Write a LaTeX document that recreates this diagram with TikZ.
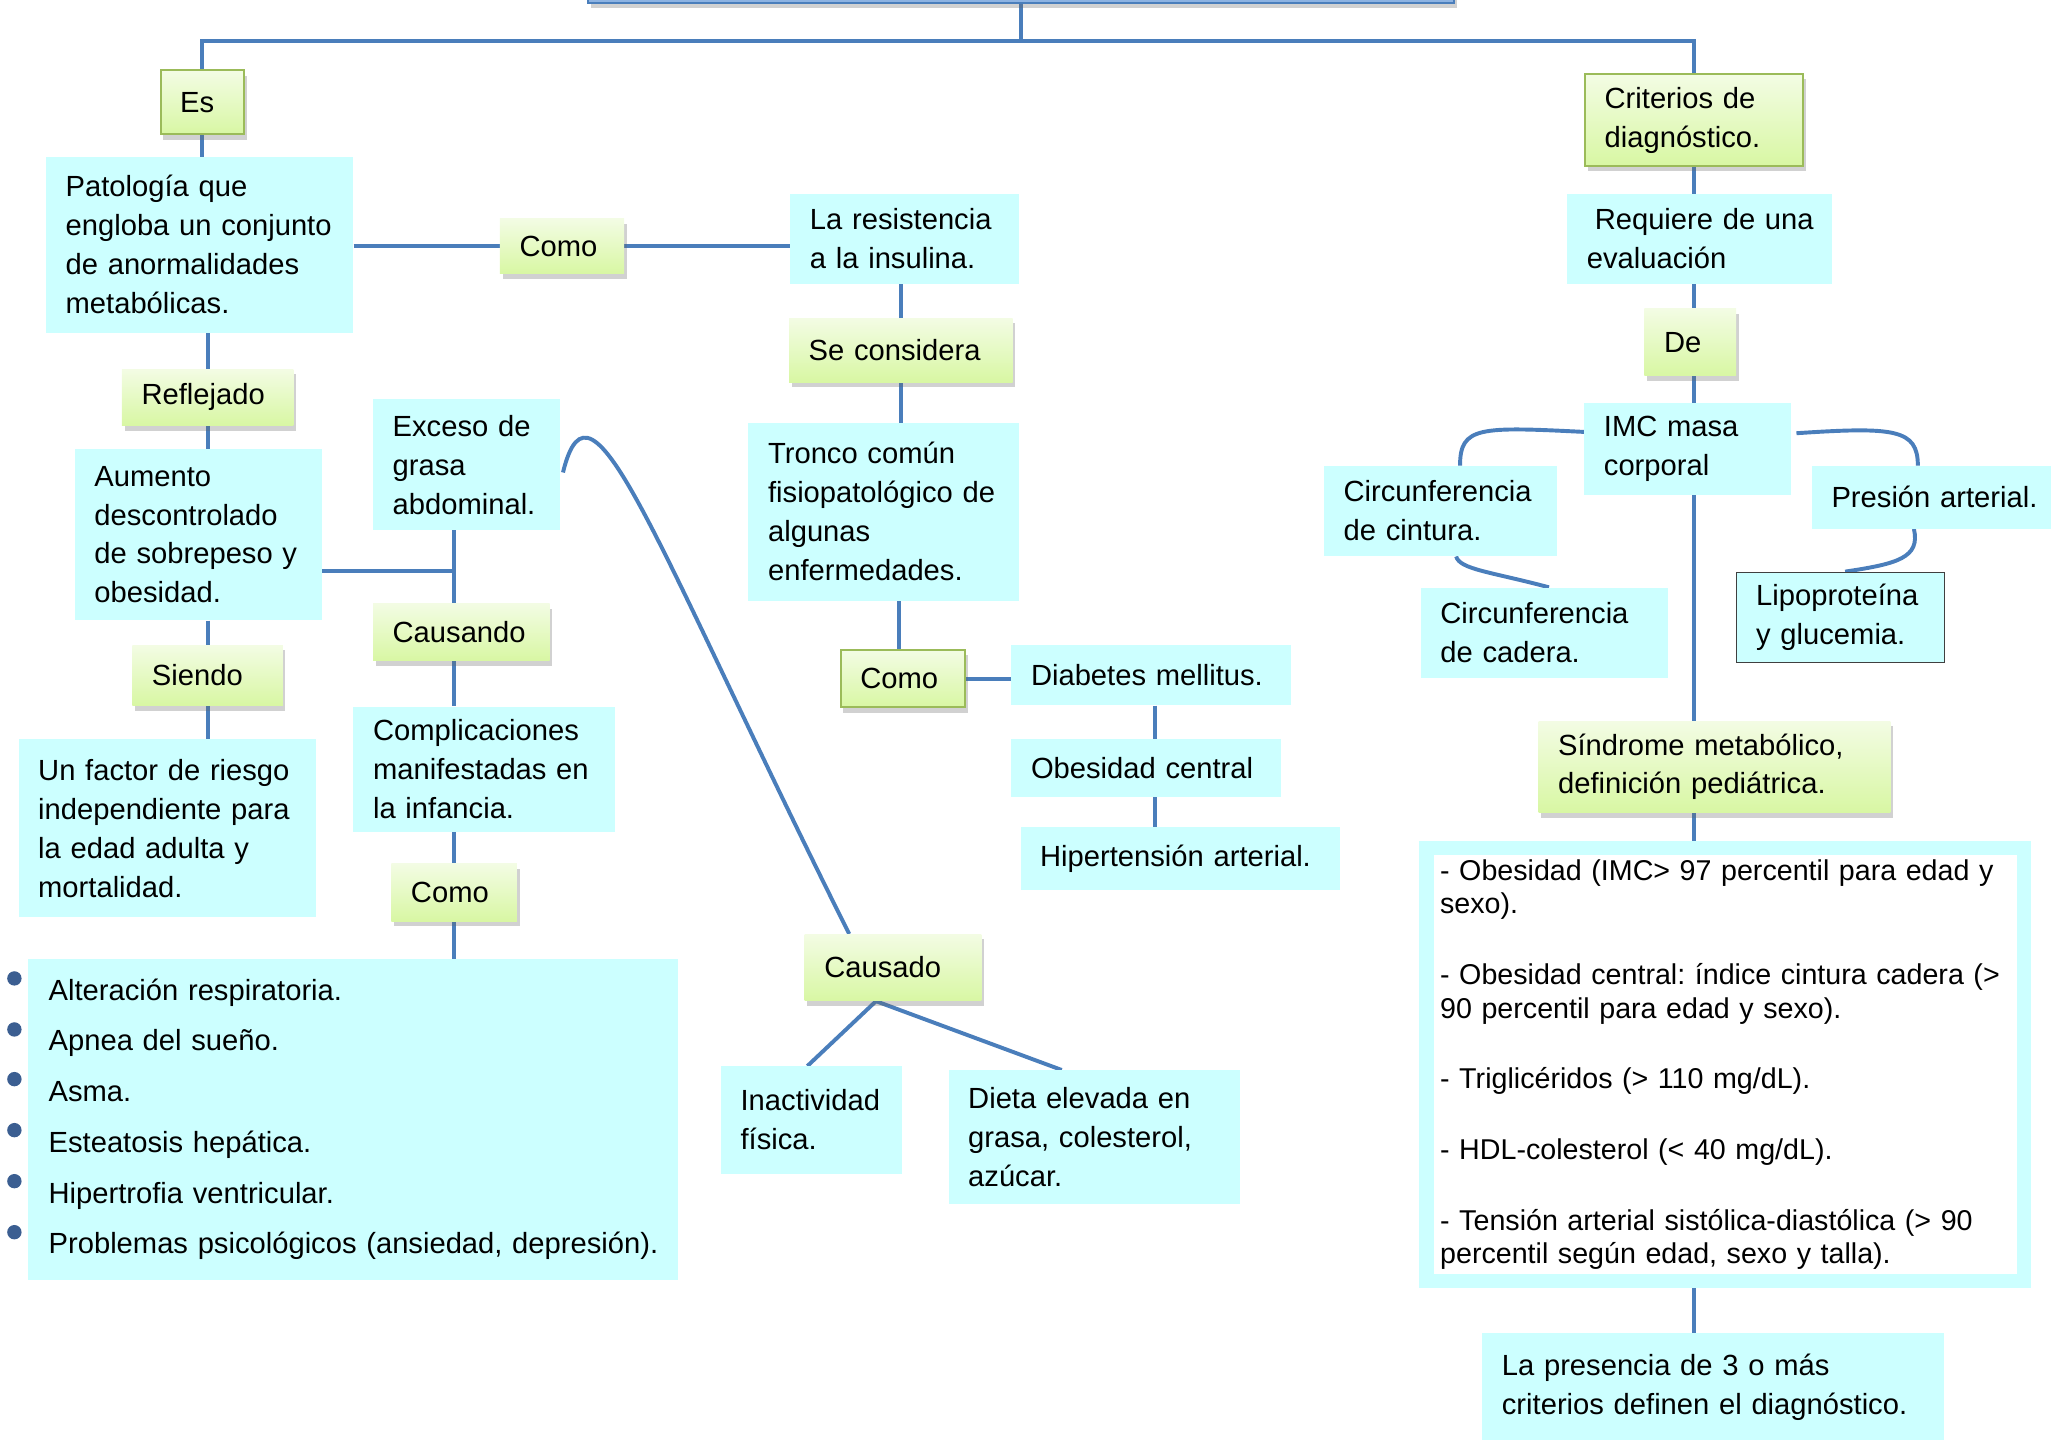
\documentclass[tikz,border=0pt]{standalone}
\usepackage{fontspec}
\setmainfont{Liberation Sans}
\usetikzlibrary{shadows}
\pgfdeclarelayer{bg}
\pgfsetlayers{bg,main}
\definecolor{cyanfill}{HTML}{CCFFFF}
\definecolor{gtop}{HTML}{F3FCE4}
\definecolor{gbot}{HTML}{D8F7A3}
\definecolor{gedge}{HTML}{9BBB59}
\definecolor{connc}{HTML}{4A7EBB}
\definecolor{titlefill}{HTML}{8DB3E2}
\definecolor{bulletc}{HTML}{3B5E91}
\definecolor{lipoedge}{HTML}{404040}
\frenchspacing
\newcommand\myfs{\fontsize{22.3pt}{29.8pt}\selectfont\frenchspacing}
\newcommand\listfs{\fontsize{22.3pt}{38.8pt}\selectfont\frenchspacing}
\newcommand\critfs{\fontsize{21.9pt}{25.6pt}\selectfont\frenchspacing}
\tikzset{
  base/.style={anchor=north west, inner xsep=15pt, inner ysep=0pt, align=left, font=\myfs, text=black},
  cbox/.style={base, fill=cyanfill},
  gbox/.style={base, top color=gtop, bottom color=gbot,
    drop shadow={shadow xshift=2pt, shadow yshift=-4pt, opacity=0.3, fill=black!60}},
  gboxb/.style={gbox, draw=gedge, line width=1.5pt},
  sz/.style 2 args={text width={(#1-30)*1pt}, minimum height={#2*1pt}},
  conn/.style={draw=connc, line width=3pt},
}
\begin{document}
\begin{tikzpicture}[x=1pt,y=-1pt]
\useasboundingbox (0,0) rectangle (1568,1101);
\clip (0,0) rectangle (1568,1101);

% title (cut off at top)
\node[fill=titlefill, draw=connc, line width=1.5pt, anchor=south west, inner sep=0pt,
  minimum width=662pt, minimum height=40pt,
  drop shadow={shadow xshift=2pt, shadow yshift=-4pt, opacity=0.3, fill=black!60}] (title) at (449,3) {};
\coordinate (bar) at (0,31);

% left column
\node[gboxb, sz={64}{49}] (es) at (122,53) {Es};
\node[cbox, sz={235}{134}] (pat) at (35,120) {Patología que\\engloba un conjunto\\de anormalidades\\metabólicas.};
\node[gbox, sz={95}{42}] (como1) at (382,167) {Como};
\node[gbox, sz={131}{43}] (refl) at (93,282) {Reflejado};
\node[cbox, sz={189}{131}] (aum) at (57,343) {Aumento\\descontrolado\\de sobrepeso y\\obesidad.};
\node[cbox, sz={143}{100}] (exc) at (285,305) {Exceso de\\grasa\\abdominal.};
\node[gbox, sz={135}{44}] (caus) at (285,461) {Causando};
\node[cbox, sz={200}{96}] (comp) at (270,540) {Complicaciones\\manifestadas en\\la infancia.};
\node[gbox, sz={96}{44}] (como3) at (299,660) {Como};
\node[gbox, sz={115}{46}] (siendo) at (101,493) {Siendo};
\node[cbox, sz={227}{136}] (fact) at (14,565) {Un factor de riesgo\\independiente para\\la edad adulta y\\mortalidad.};
\node[cbox, sz={495}{245}, inner xsep=16pt, font=\listfs] (list) at (21,733)
  {Alteración respiratoria.\\Apnea del sueño.\\Asma.\\Esteatosis hepática.\\Hipertrofia ventricular.\\\mbox{Problemas psicológicos (ansiedad, depresión).}};
\foreach \yy in {748,787,825,864,903,942}
  \fill[bulletc] (11,\yy) circle (5.5pt);

% middle column
\node[cbox, sz={175}{69}] (res) at (604,148) {La resistencia\\a la insulina.};
\node[gbox, sz={171}{49}] (sec) at (603,243) {Se considera};
\node[cbox, sz={207}{136}] (tron) at (572,323) {Tronco común\\fisiopatológico de\\algunas\\enfermedades.};
\node[gboxb, sz={95}{44}] (como2) at (642,496) {Como};
\node[cbox, sz={214}{46}] (diab) at (773,493) {Diabetes mellitus.};
\node[cbox, sz={206}{44}] (obes) at (773,565) {Obesidad central};
\node[cbox, sz={244}{48}] (hip) at (780,632) {Hipertensión arterial.};
\node[gbox, sz={135}{51}] (caus2) at (615,714) {Causado};
\node[cbox, sz={138}{82}] (inact) at (551,815) {Inactividad\\física.};
\node[cbox, sz={223}{102}] (dieta) at (725,818) {Dieta elevada en\\grasa, colesterol,\\azúcar.};

% right column
\node[gboxb, sz={167}{70}] (crit) at (1211,56) {Criterios de\\diagnóstico.};
\node[cbox, sz={202}{69}] (req) at (1198,148) {\mbox{\hspace*{6pt}Requiere de una}\\evaluación};
\node[gbox, sz={70}{51}] (de) at (1257,236) {De};
\node[cbox, sz={158}{70}] (imc) at (1211,308) {IMC masa\\corporal};
\node[cbox, sz={178}{69}] (cint) at (1012,356) {Circunferencia\\de cintura.};
\node[cbox, sz={189}{69}] (cad) at (1086,449) {Circunferencia\\de cadera.};
\node[cbox, sz={190}{48}] (pres) at (1385,356) {Presión arterial.};
\node[cbox, sz={159}{69}, draw=lipoedge, line width=1.2pt] (lipo) at (1327,437) {Lipoproteína\\y glucemia.};
\node[gbox, sz={269}{70}] (sind) at (1176,551) {Síndrome metabólico,\\definición pediátrica.};
\node[base, fill=white, draw=cyanfill, line width=11pt, inner xsep=10.5pt, text width=436pt,
  minimum height=331pt, font=\critfs] (cl) at (1085,643)
  {\mbox{- Obesidad (IMC> 97 percentil para edad y}\\sexo).\\[28.5pt]
   \mbox{- Obesidad central: índice cintura cadera (>}\\90 percentil para edad y sexo).\\[28.5pt]
   - Triglicéridos (> 110 mg/dL).\\[28.5pt]
   - HDL-colesterol (< 40 mg/dL).\\[28.5pt]
   \mbox{- Tensión arterial sistólica-diastólica (> 90}\\percentil según edad, sexo y talla).};
\node[cbox, sz={353}{82}] (presn) at (1133,1019) {La presencia de 3 o más\\criterios definen el diagnóstico.};

\begin{pgfonlayer}{bg}
  \draw[conn] (title.south) -- (title.south |- bar);
  \draw[conn] (es.north) -- (es.north |- bar) -- (crit.north |- bar) -- (crit.north);
  \draw[conn] (es.south) -- (es.south |- pat.north);
  \draw[conn] (pat.east |- como1.west) -- (como1.west);
  \draw[conn] (como1.east) -- (como1.east -| res.west);
  \draw[conn] (sec.north |- res.south) -- (sec.north);
  \draw[conn] (sec.south) -- (sec.south |- tron.north);
  \draw[conn] ([xshift=-3pt]como2.north |- tron.south) -- ([xshift=-3pt]como2.north);
  \draw[conn] (como2.east) -- (como2.east -| diab.west);
  \draw[conn] ([xshift=3pt]diab.south) -- ([xshift=3pt]diab.south |- obes.north);
  \draw[conn] ([xshift=3pt]diab.south |- obes.south) -- ([xshift=3pt]diab.south |- hip.north);
  \draw[conn] (refl.north |- pat.south) -- (refl.north);
  \draw[conn] (refl.south) -- (refl.south |- aum.north);
  \draw[conn] (siendo.north |- aum.south) -- (siendo.north);
  \draw[conn] (siendo.south) -- (siendo.south |- fact.north);
  \draw[conn] (como3.north |- exc.south) -- (como3.north |- caus.north);
  \draw[conn] ([yshift=-27.5pt]aum.east) -- ([yshift=-27.5pt]aum.east -| como3.north);
  \draw[conn] (como3.north |- caus.south) -- (como3.north |- comp.north);
  \draw[conn] (como3.north |- comp.south) -- (como3.north);
  \draw[conn] (como3.south) -- (como3.south |- list.north);
  \draw[conn] ([xshift=2pt,yshift=-6pt]exc.east) .. controls +(22,-90) and +(-150,-300) .. ([xshift=-33.5pt]caus2.north);
  \draw[conn] ([xshift=-13pt]caus2.south) -- ([xshift=-3pt]inact.north);
  \draw[conn] ([xshift=-13pt]caus2.south) -- ([xshift=-25pt]dieta.north);
  \draw[conn] (crit.south) -- (crit.south |- req.north);
  \draw[conn] (crit.south |- req.south) -- (crit.south |- de.north);
  \draw[conn] (crit.south |- de.south) -- (crit.south |- imc.north);
  \draw[conn] (crit.south |- imc.south) -- (crit.south |- sind.north);
  \draw[conn] (crit.south |- sind.south) -- (crit.south |- cl.north);
  \draw[conn] (crit.south |- cl.south) -- (crit.south |- presn.north);
  \draw[conn] ([yshift=13pt]imc.west) .. controls +(-80,-4) and +(0,-30) .. ([xshift=15pt]cint.north);
  \draw[conn] ([xshift=12pt]cint.south) .. controls +(3,10) and +(-45,-12) .. ([xshift=3.5pt]cad.north);
  \draw[conn] ([xshift=4pt,yshift=12pt]imc.east) .. controls +(75,-5) and +(0,-28) .. ([xshift=-14pt]pres.north);
  \draw[conn] ([xshift=-17pt]pres.south) .. controls +(5,22) and +(40,-6) .. ([xshift=3.5pt]lipo.north);
\end{pgfonlayer}
\end{tikzpicture}
\end{document}
